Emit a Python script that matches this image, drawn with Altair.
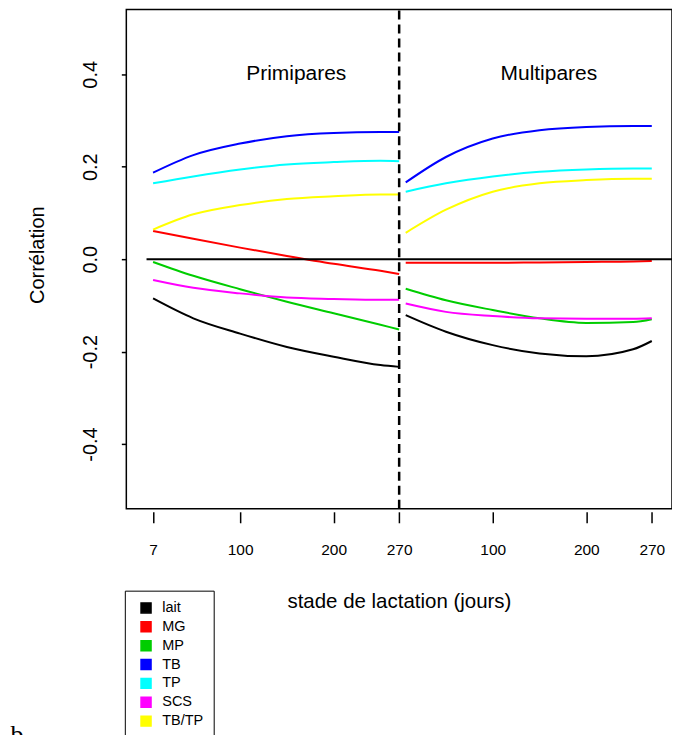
import altair as alt
import pandas as pd

# ---- data ----
days = [7, 50, 100, 150, 200, 250, 270]
series = ["lait", "MG", "MP", "TB", "TP", "SCS", "TB/TP"]
colors = ["#000000", "#FF0000", "#00CD00", "#0000FF", "#00FFFF", "#FF00FF", "#FFFF00"]

primi_lait = [-0.085, -0.128, -0.161, -0.190, -0.211, -0.229, -0.233]
primi_mg = [0.061, 0.044, 0.025, 0.007, -0.010, -0.025, -0.032]
primi_mp = [-0.006, -0.036, -0.065, -0.092, -0.117, -0.142, -0.152]
primi_tb = [0.187, 0.225, 0.250, 0.266, 0.273, 0.275, 0.275]
primi_tp = [0.164, 0.179, 0.194, 0.205, 0.210, 0.213, 0.212]
primi_scs = [-0.045, -0.062, -0.074, -0.083, -0.086, -0.088, -0.088]
primi_tbtp = [0.064, 0.097, 0.117, 0.130, 0.136, 0.140, 0.140]

multi_lait = [-0.121, -0.157, -0.186, -0.204, -0.210, -0.195, -0.177]
multi_mg = [-0.008, -0.008, -0.008, -0.007, -0.006, -0.005, -0.004]
multi_mp = [-0.064, -0.089, -0.110, -0.128, -0.138, -0.136, -0.130]
multi_tb = [0.166, 0.221, 0.261, 0.279, 0.286, 0.288, 0.288]
multi_tp = [0.146, 0.164, 0.179, 0.189, 0.194, 0.196, 0.196]
multi_scs = [-0.096, -0.114, -0.123, -0.128, -0.129, -0.129, -0.128]
multi_tbtp = [0.057, 0.107, 0.146, 0.164, 0.171, 0.174, 0.174]

panels = ["Primipares", "Multipares"]
panel_shift = [0, 270]          # second lactation block follows the first on the day axis
panel_label_day = [160, 160]
panel_label_y = [0.4, 0.4]

x_ticks = [7, 100, 200, 270, 370, 470, 540]
y_ticks = [-0.4, -0.2, 0.0, 0.2, 0.4]
x_domain = [-21.6, 561.6]
y_domain = [-0.54, 0.54]
zero_line_x = [0, 561.6]
split_day = 270

primi = [primi_lait, primi_mg, primi_mp, primi_tb, primi_tp, primi_scs, primi_tbtp]
multi = [multi_lait, multi_mg, multi_mp, multi_tb, multi_tp, multi_scs, multi_tbtp]

rows = []
for p, shift, block in [(panels[0], panel_shift[0], primi), (panels[1], panel_shift[1], multi)]:
    for s, vals in zip(series, block):
        for d, v in zip(days, vals):
            rows.append({"panel": p, "serie": s, "x": d + shift, "r": v})
df = pd.DataFrame(rows)

labels_df = pd.DataFrame({
    "txt": panels,
    "x": [panel_label_day[i] + panel_shift[i] for i in range(2)],
    "y": panel_label_y,
})
zero_df = pd.DataFrame({"x": [zero_line_x[0]], "x2": [zero_line_x[1]], "y": [0.0]})
split_df = pd.DataFrame({"x": [split_day], "y": [y_domain[0]], "y2": [y_domain[1]]})
legend_df = pd.DataFrame({"serie": series})

FONT = "Liberation Sans"

xscale = alt.Scale(domain=x_domain, nice=False, zero=False)
yscale = alt.Scale(domain=y_domain, nice=False, zero=False)

x_axis = alt.Axis(
    values=x_ticks,
    labelExpr="datum.value > 270 ? toString(datum.value - 270) : toString(datum.value)",
    domain=False, grid=False, offset=3, tickSize=11, tickWidth=1.5, tickColor="black",
    labelFontSize=15.5, labelPadding=20, labelColor="black", labelFont=FONT,
    title="stade de lactation (jours)", titleFontSize=20.5, titleFont=FONT,
    titleFontWeight="normal", titleColor="black",
    titleX=273, titleY=96, titleBaseline="alphabetic", titleAlign="center",
)
y_axis = alt.Axis(
    values=y_ticks,
    labelExpr="datum.value == 0 ? '0.0' : (datum.value < 0 ? '-' + format(-datum.value, '.1f') : format(datum.value, '.1f'))",
    domain=False, grid=False, tickSize=5, tickWidth=1.5, tickColor="black",
    labelAngle=270, labelAlign="center", labelBaseline="alphabetic",
    labelFontSize=20, labelPadding=25, labelColor="black", labelFont=FONT,
    title="Corrélation", titleFontSize=20, titleFont=FONT, titleFontWeight="normal",
    titleColor="black", titleAngle=270, titleAlign="center", titleBaseline="alphabetic",
    titleX=-82.5, titleY=245.5,
)

legend = alt.Legend(
    title=None, orient="none", legendX=-1.5, legendY=582,
    strokeColor="black", fillColor="white", padding=10, cornerRadius=0,
    symbolType="square", symbolSize=100, symbolOffset=4, symbolStrokeWidth=1.5,
    symbolStrokeColor="black", symbolOpacity=1,
    labelFont=FONT, labelFontSize=14.5, labelColor="black", labelOffset=9,
    rowPadding=1.9,
)

# legend carrier: invisible filled squares, the legend shows filled squares with black border
legend_layer = alt.Chart(legend_df).mark_square(
    filled=True, stroke="black", strokeWidth=1.5, size=100, opacity=0
).encode(
    color=alt.Color("serie:N", scale=alt.Scale(domain=series, range=colors), legend=legend, sort=series),
)

lines = alt.Chart(df).mark_line(strokeWidth=2, interpolate="monotone").encode(
    x=alt.X("x:Q", scale=xscale, axis=x_axis),
    y=alt.Y("r:Q", scale=yscale, axis=y_axis),
    stroke=alt.Stroke("serie:N", scale=alt.Scale(domain=series, range=colors), legend=None),
    detail="panel:N",
)

zero = alt.Chart(zero_df).mark_rule(color="black", strokeWidth=2).encode(
    x=alt.X("x:Q", scale=xscale), x2="x2:Q", y=alt.Y("y:Q", scale=yscale)
)
split = alt.Chart(split_df).mark_rule(color="black", strokeWidth=2.5, strokeDash=[9, 5]).encode(
    x=alt.X("x:Q", scale=xscale), y=alt.Y("y:Q", scale=yscale), y2="y2:Q"
)
texts = alt.Chart(labels_df).mark_text(font=FONT, fontSize=21, color="black", baseline="middle", align="center").encode(
    x=alt.X("x:Q", scale=xscale), y=alt.Y("y:Q", scale=yscale), text="txt:N"
)
letter = alt.Chart(pd.DataFrame({"t": ["b"]})).mark_text(
    font="Liberation Serif", fontSize=26, color="black", align="left", baseline="alphabetic"
).encode(x=alt.value(-116), y=alt.value(735), text="t:N")

chart = alt.layer(legend_layer, lines, zero, split, texts, letter).properties(
    width=546.5, height=500,
    autosize=alt.AutoSizeParams(type="none"),
    padding={"left": 118.5, "top": 1, "right": 0, "bottom": 226},
).configure(background="white").configure_view(stroke="black", strokeWidth=1.5, strokeOpacity=1)

chart.save("out.html", embed_options={"renderer": "svg", "actions": False})
